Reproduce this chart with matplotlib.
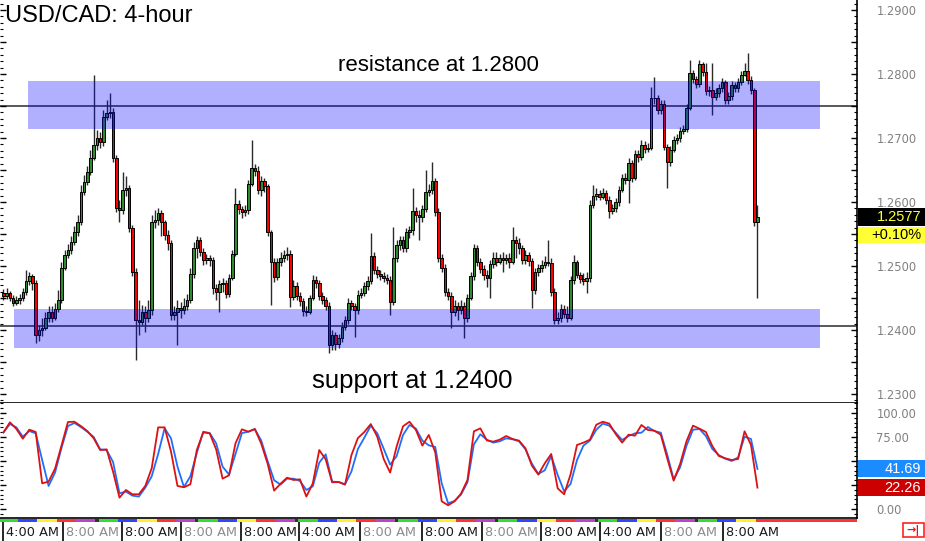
import numpy as np
import matplotlib
matplotlib.use("Agg")
import matplotlib.pyplot as plt
import matplotlib.transforms as mtransforms
from matplotlib.patches import Rectangle
from matplotlib.ticker import MultipleLocator, FuncFormatter

plt.rcParams['font.family'] = ['DejaVu Sans']

# ---- data: USD/CAD 4-hour candles ----
first_open = 1.2458
closes = [
    1.2453, 1.2458, 1.2450, 1.2442, 1.2447, 1.2450, 1.2459, 1.2477, 1.2484, 1.2473,
    1.2392, 1.2400, 1.2403, 1.2419, 1.2428, 1.2419, 1.2433, 1.2447, 1.2497, 1.2517,
    1.2525, 1.2537, 1.2553, 1.2569, 1.2616, 1.2631, 1.2647, 1.2669, 1.2689, 1.2700,
    1.2694, 1.2733, 1.2739, 1.2741, 1.2669, 1.2591, 1.2587, 1.2619, 1.2622, 1.2559,
    1.2491, 1.2416, 1.2412, 1.2428, 1.2419, 1.2431, 1.2569, 1.2572, 1.2583, 1.2569,
    1.2548, 1.2536, 1.2423, 1.2428, 1.2434, 1.2431, 1.2437, 1.2447, 1.2487, 1.2528,
    1.2541, 1.2522, 1.2509, 1.2512, 1.2509, 1.2466, 1.2459, 1.2472, 1.2473, 1.2456,
    1.2481, 1.2519, 1.2597, 1.2589, 1.2584, 1.2587, 1.2628, 1.2653, 1.2648, 1.2619,
    1.2633, 1.2625, 1.2553, 1.2506, 1.2483, 1.2506, 1.2512, 1.2517, 1.2519, 1.2452,
    1.2469, 1.2453, 1.2445, 1.2430, 1.2428, 1.2450, 1.2478, 1.2473, 1.2453, 1.2447,
    1.2437, 1.2377, 1.2392, 1.2378, 1.2387, 1.2405, 1.2416, 1.2442, 1.2437, 1.2431,
    1.2455, 1.2458, 1.2469, 1.2477, 1.2516, 1.2494, 1.2487, 1.2484, 1.2481, 1.2478,
    1.2444, 1.2512, 1.2533, 1.2541, 1.2528, 1.2553, 1.2556, 1.2586, 1.2580, 1.2577,
    1.2589, 1.2616, 1.2619, 1.2633, 1.2584, 1.2512, 1.2497, 1.2459, 1.2453, 1.2428,
    1.2437, 1.2431, 1.2437, 1.2419, 1.2450, 1.2484, 1.2528, 1.2506, 1.2495, 1.2486,
    1.2481, 1.2503, 1.2512, 1.2506, 1.2512, 1.2509, 1.2512, 1.2506, 1.2541, 1.2536,
    1.2528, 1.2509, 1.2517, 1.2508, 1.2462, 1.2491, 1.2497, 1.2502, 1.2506, 1.2505,
    1.2459, 1.2416, 1.2419, 1.2433, 1.2425, 1.2419, 1.2478, 1.2506, 1.2486, 1.2480,
    1.2477, 1.2481, 1.2595, 1.2609, 1.2612, 1.2608, 1.2614, 1.2603, 1.2586, 1.2591,
    1.2600, 1.2619, 1.2637, 1.2634, 1.2661, 1.2637, 1.2675, 1.2670, 1.2689, 1.2683,
    1.2684, 1.2762, 1.2763, 1.2744, 1.2753, 1.2686, 1.2662, 1.2681, 1.2697, 1.2700,
    1.2711, 1.2714, 1.2747, 1.2802, 1.2792, 1.2784, 1.2816, 1.2803, 1.2773, 1.2775,
    1.2764, 1.2770, 1.2778, 1.2788, 1.2759, 1.2766, 1.2783, 1.2778, 1.2788, 1.2798,
    1.2805, 1.2791, 1.2775, 1.2569, 1.2577]
highs = [
    1.2464, 1.2466, 1.2461, 1.2455, 1.2453, 1.2456, 1.2466, 1.2494, 1.2491, 1.2487,
    1.2478, 1.2408, 1.2419, 1.2428, 1.2437, 1.2437, 1.2442, 1.2462, 1.2506, 1.2525,
    1.2534, 1.2547, 1.2562, 1.2580, 1.2627, 1.2642, 1.2656, 1.2681, 1.2798, 1.2712,
    1.2709, 1.2744, 1.2759, 1.2770, 1.2747, 1.2673, 1.2603, 1.2647, 1.2641, 1.2627,
    1.2564, 1.2497, 1.2447, 1.2439, 1.2437, 1.2447, 1.2580, 1.2587, 1.2591, 1.2587,
    1.2572, 1.2556, 1.2541, 1.2437, 1.2447, 1.2444, 1.2450, 1.2456, 1.2497, 1.2537,
    1.2547, 1.2545, 1.2528, 1.2519, 1.2517, 1.2514, 1.2472, 1.2478, 1.2481, 1.2478,
    1.2487, 1.2525, 1.2622, 1.2603, 1.2594, 1.2595, 1.2634, 1.2697, 1.2659, 1.2656,
    1.2641, 1.2637, 1.2628, 1.2556, 1.2512, 1.2512, 1.2522, 1.2525, 1.2530, 1.2525,
    1.2478, 1.2475, 1.2459, 1.2450, 1.2437, 1.2455, 1.2486, 1.2484, 1.2478, 1.2459,
    1.2452, 1.2444, 1.2400, 1.2397, 1.2394, 1.2412, 1.2422, 1.2450, 1.2447, 1.2442,
    1.2462, 1.2466, 1.2475, 1.2484, 1.2552, 1.2522, 1.2500, 1.2494, 1.2491, 1.2487,
    1.2484, 1.2561, 1.2541, 1.2547, 1.2547, 1.2559, 1.2562, 1.2622, 1.2592, 1.2587,
    1.2595, 1.2650, 1.2628, 1.2662, 1.2637, 1.2591, 1.2519, 1.2503, 1.2466, 1.2459,
    1.2447, 1.2444, 1.2447, 1.2444, 1.2456, 1.2491, 1.2534, 1.2533, 1.2512, 1.2502,
    1.2494, 1.2509, 1.2522, 1.2522, 1.2519, 1.2522, 1.2519, 1.2520, 1.2561, 1.2547,
    1.2544, 1.2533, 1.2525, 1.2522, 1.2512, 1.2497, 1.2503, 1.2509, 1.2516, 1.2541,
    1.2512, 1.2466, 1.2428, 1.2441, 1.2439, 1.2437, 1.2484, 1.2517, 1.2509, 1.2491,
    1.2489, 1.2491, 1.2603, 1.2627, 1.2622, 1.2619, 1.2622, 1.2619, 1.2609, 1.2597,
    1.2606, 1.2625, 1.2644, 1.2645, 1.2669, 1.2666, 1.2681, 1.2681, 1.2697, 1.2695,
    1.2692, 1.2780, 1.2795, 1.2767, 1.2759, 1.2759, 1.2691, 1.2688, 1.2703, 1.2706,
    1.2717, 1.2720, 1.2753, 1.2822, 1.2806, 1.2797, 1.2822, 1.2819, 1.2817, 1.2781,
    1.2817, 1.2778, 1.2784, 1.2794, 1.2791, 1.2772, 1.2789, 1.2788, 1.2794, 1.2805,
    1.2817, 1.2833, 1.2797, 1.2778, 1.2595]
lows = [
    1.2447, 1.2448, 1.2445, 1.2437, 1.2439, 1.2441, 1.2445, 1.2455, 1.2470, 1.2462,
    1.2380, 1.2383, 1.2391, 1.2400, 1.2412, 1.2412, 1.2416, 1.2428, 1.2442, 1.2494,
    1.2512, 1.2519, 1.2533, 1.2547, 1.2564, 1.2611, 1.2627, 1.2642, 1.2666, 1.2681,
    1.2684, 1.2688, 1.2728, 1.2731, 1.2662, 1.2584, 1.2569, 1.2581, 1.2609, 1.2553,
    1.2484, 1.2353, 1.2392, 1.2408, 1.2397, 1.2412, 1.2423, 1.2559, 1.2564, 1.2547,
    1.2541, 1.2525, 1.2416, 1.2416, 1.2377, 1.2419, 1.2425, 1.2431, 1.2442, 1.2481,
    1.2512, 1.2516, 1.2502, 1.2503, 1.2500, 1.2456, 1.2447, 1.2428, 1.2459, 1.2450,
    1.2452, 1.2478, 1.2516, 1.2581, 1.2575, 1.2578, 1.2581, 1.2625, 1.2641, 1.2612,
    1.2609, 1.2616, 1.2547, 1.2439, 1.2475, 1.2478, 1.2500, 1.2506, 1.2509, 1.2436,
    1.2447, 1.2447, 1.2437, 1.2422, 1.2422, 1.2425, 1.2447, 1.2466, 1.2447, 1.2441,
    1.2431, 1.2364, 1.2369, 1.2369, 1.2372, 1.2381, 1.2400, 1.2409, 1.2431, 1.2389,
    1.2425, 1.2450, 1.2453, 1.2462, 1.2472, 1.2487, 1.2481, 1.2478, 1.2475, 1.2472,
    1.2423, 1.2439, 1.2506, 1.2525, 1.2522, 1.2522, 1.2544, 1.2548, 1.2569, 1.2541,
    1.2569, 1.2584, 1.2609, 1.2612, 1.2578, 1.2506, 1.2491, 1.2453, 1.2447, 1.2403,
    1.2422, 1.2416, 1.2425, 1.2387, 1.2412, 1.2447, 1.2478, 1.2500, 1.2489, 1.2478,
    1.2467, 1.2450, 1.2497, 1.2500, 1.2503, 1.2491, 1.2503, 1.2497, 1.2503, 1.2512,
    1.2519, 1.2503, 1.2503, 1.2500, 1.2434, 1.2456, 1.2484, 1.2491, 1.2497, 1.2500,
    1.2453, 1.2409, 1.2409, 1.2412, 1.2419, 1.2412, 1.2416, 1.2472, 1.2481, 1.2473,
    1.2470, 1.2458, 1.2475, 1.2591, 1.2603, 1.2603, 1.2605, 1.2597, 1.2575, 1.2581,
    1.2584, 1.2594, 1.2616, 1.2628, 1.2598, 1.2631, 1.2634, 1.2662, 1.2666, 1.2677,
    1.2678, 1.2681, 1.2753, 1.2738, 1.2738, 1.2681, 1.2622, 1.2656, 1.2678, 1.2691,
    1.2694, 1.2706, 1.2709, 1.2744, 1.2786, 1.2778, 1.2780, 1.2797, 1.2767, 1.2766,
    1.2736, 1.2759, 1.2764, 1.2772, 1.2753, 1.2753, 1.2759, 1.2772, 1.2772, 1.2783,
    1.2797, 1.2784, 1.2769, 1.2562, 1.2450]
change_label = "+0.10%"

# stochastic, one reading every 2 candles
stoch_step = 2
stoch_k = [
    79.8, 90.3, 83.3, 73.2, 82.6, 80.2, 26.7, 28.5, 42.0, 66.0,
    90.6, 90.9, 86.4, 81.2, 73.6, 61.4, 62.1, 38.9, 11.8, 19.8,
    15.3, 15.3, 24.0, 42.4, 85.0, 85.0, 59.7, 24.0, 22.6, 25.7,
    61.4, 79.8, 78.8, 62.1, 31.6, 35.1, 68.4, 83.0, 80.5, 83.3,
    68.0, 46.9, 19.1, 26.4, 32.6, 30.2, 30.9, 12.9, 26.7, 61.4,
    51.7, 27.8, 28.1, 25.4, 56.2, 73.9, 80.2, 88.5, 75.3, 52.1,
    37.9, 64.9, 86.1, 90.9, 82.3, 66.0, 77.1, 59.0, 8.0, 3.8,
    8.0, 16.0, 30.2, 80.9, 84.0, 71.5, 70.1, 72.2, 76.0, 72.9,
    71.2, 63.2, 45.1, 35.8, 47.6, 57.3, 21.5, 15.3, 36.1, 66.7,
    69.1, 72.2, 87.8, 90.9, 88.9, 78.1, 69.1, 77.4, 76.4, 87.5,
    82.3, 81.6, 77.4, 52.8, 29.5, 46.9, 70.8, 86.8, 83.7, 80.2,
    65.6, 55.2, 52.8, 51.0, 52.1, 80.9, 66.7, 22.26]
stoch_d = [
    79.8, 88.5, 85.0, 75.3, 81.2, 78.8, 51.0, 24.0, 37.9, 63.5,
    86.4, 89.6, 85.4, 80.5, 75.0, 62.1, 61.4, 49.0, 16.3, 18.1,
    13.9, 12.9, 22.2, 34.0, 57.3, 84.0, 73.6, 44.1, 22.9, 34.0,
    58.3, 80.5, 79.1, 68.4, 44.1, 35.8, 57.3, 79.1, 80.5, 83.3,
    71.2, 49.7, 29.9, 25.4, 31.6, 31.6, 29.2, 19.8, 23.6, 48.3,
    56.9, 28.5, 28.1, 25.7, 39.2, 62.5, 74.3, 86.8, 78.8, 62.8,
    46.2, 54.9, 77.1, 87.5, 83.7, 71.2, 66.3, 64.6, 26.7, 5.9,
    8.4, 15.0, 27.8, 67.3, 77.8, 72.2, 69.1, 70.5, 73.6, 72.6,
    70.5, 62.1, 47.2, 36.5, 40.3, 55.2, 35.4, 18.4, 26.1, 51.0,
    66.0, 71.2, 82.6, 88.9, 86.8, 79.5, 71.9, 76.0, 78.8, 79.5,
    85.4, 81.2, 79.5, 56.6, 30.9, 43.4, 66.0, 82.6, 83.3, 76.0,
    62.5, 56.2, 52.4, 50.0, 53.8, 75.3, 72.9, 41.69]
stoch_hidden_labels = [25, 50]   # covered by the value tags

# zones and levels
resistance_zone = (1.2714, 1.2789)
resistance_level = 1.2750
resistance_span = (7.6, 253.4)
support_zone = (1.2372, 1.2433)
support_level = 1.2406
support_span = (3.3, 253.4)
resistance_text = ("resistance at 1.2800", 134.9, 1.28125)
support_text = ("support at 1.2400", 126.8, 1.2320)

# time axis
time_ticks = [-0.2, 18.5, 36.8, 55.1, 73.7, 91.7, 110.6, 129.9, 148.5, 166.8, 185.1, 204.1, 223.3]
time_labels = ['4:00 AM', '8:00 AM', '8:00 AM', '8:00 AM', '8:00 AM', '4:00 AM', '8:00 AM',
               '8:00 AM', '8:00 AM', '8:00 AM', '4:00 AM', '8:00 AM', '8:00 AM']
time_faded = [False, True, False, True, False, False, True, False, True, False, False, True, False]
day_colors = ['#33dd33', '#3344ff', '#ffee33', '#ff3333', '#bb44cc', '#333333']
day_candles = [6, 6, 6, 6, 6, 1]
first_day_start = -1.5

# ---- figure ----
W, H = 925, 541
fig = plt.figure(figsize=(W / 100, H / 100), dpi=100)
xlim = (-1.086, 264.9)

ax = fig.add_axes([0, 1 - 403 / H, 857 / W, 403 / H])
ax_st = fig.add_axes([0, 1 - 518 / H, 857 / W, 115 / H])
ax_bar = fig.add_axes([0, 1 - 522 / H, 857 / W, 3 / H])

n = len(closes)
x = np.arange(n)
opens = np.array([first_open] + closes[:-1])
c = np.array(closes)
up = c >= opens

# wicks
ax.vlines(x, lows, highs, color='#2a2a2a', lw=1.0, zorder=1)
# bodies
ax.bar(x, np.abs(c - opens), bottom=np.minimum(c, opens), width=0.8,
       color=np.where(up, '#2e8b2e', '#ff0000'), edgecolor='black', linewidth=0.7, zorder=2)

# levels and zones
ax.axhline(resistance_level, color='#3c3c3c', lw=1.2, zorder=0.5)
ax.axhline(support_level, color='#3c3c3c', lw=1.2, zorder=0.5)
for (lo, hi), (x0, x1) in [(resistance_zone, resistance_span), (support_zone, support_span)]:
    ax.add_patch(Rectangle((x0, lo), x1 - x0, hi - lo, facecolor='#0000ff', alpha=0.31,
                           edgecolor='none', zorder=3))

ax.text(resistance_text[1], resistance_text[2], resistance_text[0], ha='center', va='center',
        fontsize=16, family='Liberation Sans', zorder=5)
ax.text(support_text[1], support_text[2], support_text[0], ha='center', va='center',
        fontsize=18.5, family='Liberation Sans', zorder=5)

ax.set_xlim(xlim)
ax.set_ylim(1.22859, 1.29156)
ax.set_xticks([])
ax.yaxis.set_major_locator(MultipleLocator(0.005))
ax.yaxis.set_minor_locator(MultipleLocator(0.001))
ax.yaxis.set_major_formatter(FuncFormatter(
    lambda v, p: f"{v:.4f}" if abs(v * 100 - round(v * 100)) < 1e-6 else ''))
ax.tick_params(axis='y', which='major', direction='in', length=4.5, width=1, left=True, right=True,
               labelleft=False, labelright=True, pad=14, labelsize=8.3, labelcolor='#808080')
ax.tick_params(axis='y', which='minor', direction='in', length=2.2, width=0.8, left=True, right=True)
for s in ['top', 'left']:
    ax.spines[s].set_visible(False)
ax.spines['right'].set_linewidth(1.2)
ax.spines['bottom'].set_linewidth(1.2)

fig.text(5 / W, 1 - 22 / H, 'USD/CAD: 4-hour', fontsize=17, family='Liberation Sans', va='baseline')

# ---- stochastic ----
xs = np.arange(0, n, stoch_step)
ax_st.plot(xs, stoch_d, color='#1f6fff', lw=1.3)
ax_st.plot(xs, stoch_k, color='#dd1111', lw=1.3)
ax_st.set_xlim(xlim)
ax_st.set_ylim(-9.4, 110.4)
ax_st.set_xticks([])
ax_st.yaxis.set_major_locator(MultipleLocator(25))
ax_st.yaxis.set_minor_locator(MultipleLocator(5))
ax_st.yaxis.set_major_formatter(FuncFormatter(
    lambda v, p: '' if round(v) in stoch_hidden_labels else f"{v:.2f}"))
ax_st.tick_params(axis='y', which='major', direction='in', length=4.5, width=1, left=True, right=True,
                  labelleft=False, labelright=True, pad=14, labelsize=8.3, labelcolor='#808080')
ax_st.tick_params(axis='y', which='minor', direction='in', length=2.2, width=0.8, left=True, right=True)
for s in ['top', 'left']:
    ax_st.spines[s].set_visible(False)
ax_st.spines['right'].set_linewidth(1.2)
ax_st.spines['bottom'].set_linewidth(1.2)

# ---- day colour strip + time labels ----
start = first_day_start
d = 0
while start < xlim[1]:
    end = start + day_candles[d % 6]
    if start <= n - 0.5 < end:
        end = xlim[1]
    ax_bar.broken_barh([(start, end - start)], (0, 1), facecolor=day_colors[d % 6])
    start = end
    d += 1
ax_bar.set_xlim(xlim)
ax_bar.set_ylim(0, 1)
ax_bar.set_yticks([])
ax_bar.set_xticks(time_ticks)
ax_bar.set_xticklabels([])
ax_bar.tick_params(axis='x', direction='out', length=14, width=1.2, color='black')
for s in ax_bar.spines.values():
    s.set_visible(False)
base = mtransforms.blended_transform_factory(ax_bar.transData, ax_bar.transAxes)
lab_tr = mtransforms.offset_copy(base, fig=fig, x=3, y=-10, units='dots')
for t, lab, faded in zip(time_ticks, time_labels, time_faded):
    ax_bar.text(t, 0, lab, transform=lab_tr, ha='left', va='center', fontsize=9.3,
                color='#8a8a8a' if faded else '#1a1a1a', clip_on=False)

# ---- value tags on the right ----
ident = mtransforms.IdentityTransform()


def tag(axis, value, text, face, color, dy=0.0, h=18):
    yd = axis.transData.transform((0, value))[1] + dy
    fig.add_artist(Rectangle((858, yd - h / 2), 67, h, transform=ident, facecolor=face,
                             edgecolor='none', zorder=10))
    fig.text(921 / W, yd / H, text, ha='right', va='center', fontsize=10.5,
             family='Liberation Sans', color=color, zorder=11)


tag(ax, closes[-1], f"{closes[-1]:.4f}", 'black', '#ffff33')
tag(ax, closes[-1], change_label, '#ffff33', 'black', dy=-18, h=16)
tag(ax_st, stoch_d[-1], f"{stoch_d[-1]:.2f}", '#1a8cff', 'white', h=17)
tag(ax_st, stoch_k[-1], f"{stoch_k[-1]:.2f}", '#cc0000', 'white', h=17)

# small scroll icon bottom right
fig.add_artist(Rectangle((903, 4), 21, 14, transform=ident, facecolor='white',
                         edgecolor='#ff2222', lw=1.2))
fig.text(913.5 / W, 11 / H, '\u2192|', ha='center', va='center', fontsize=8,
         color='#ee1111', fontweight='bold')

fig.savefig('out.png', dpi=100)
